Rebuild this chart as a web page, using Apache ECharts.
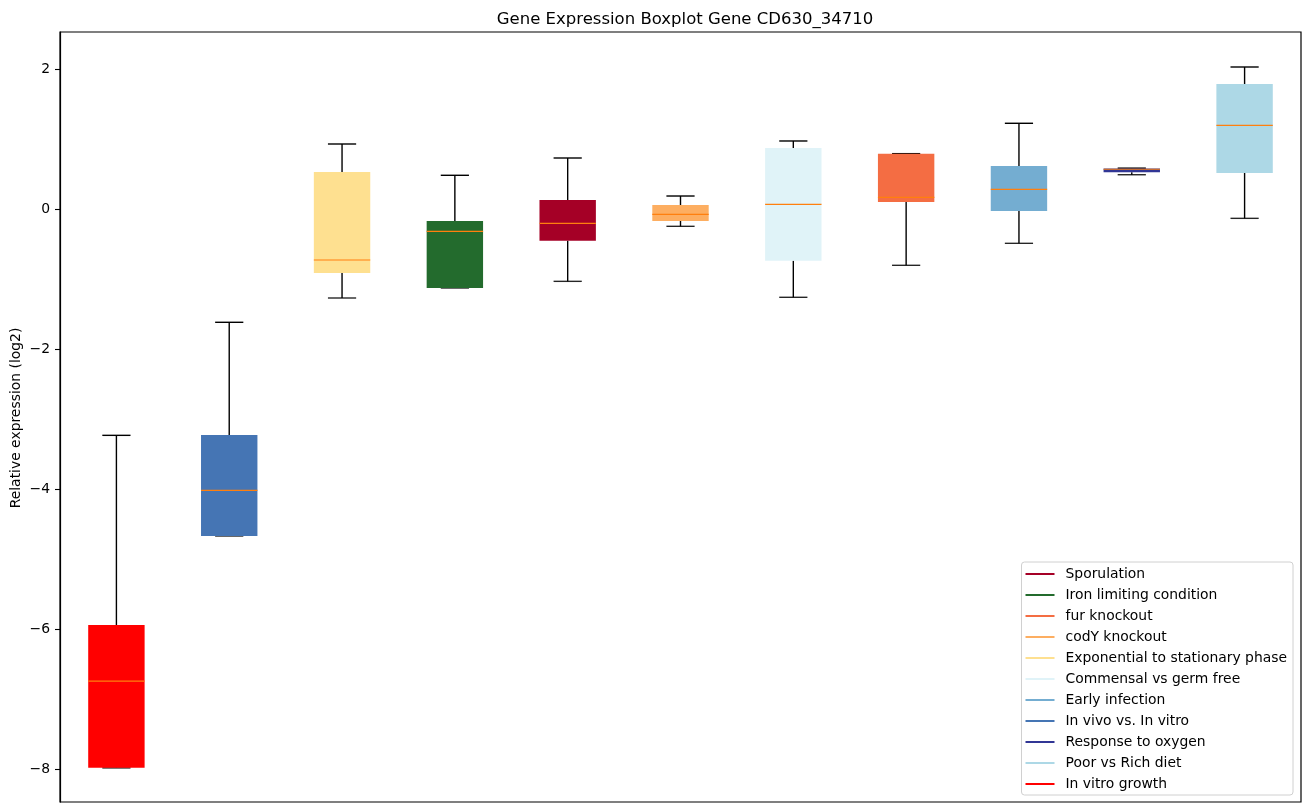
<!DOCTYPE html>
<html>
<head>
<meta charset="utf-8">
<script src="https://cdn.jsdelivr.net/npm/echarts@6/dist/echarts.min.js"></script>
<style>html,body{margin:0;padding:0;background:#fff;}#c{width:1309px;height:812px;}</style>
</head>
<body>
<div id="c"></div>
<script>
// Categories in plot order (left to right)
const categories = ['In vitro growth', 'In vivo vs. In vitro', 'Exponential to stationary phase', 'Iron limiting condition', 'Sporulation', 'codY knockout', 'Commensal vs germ free', 'fur knockout', 'Early infection', 'Response to oxygen', 'Poor vs Rich diet'];
const minVals = [-7.98, -4.667, -1.267, -1.124, -1.029, -0.243, -1.257, -0.80, -0.486, 0.494, -0.129];
const q1Vals  = [-7.977, -4.667, -0.91, -1.124, -0.448, -0.167, -0.734, 0.104, -0.024, 0.53, 0.519];
const medVals = [-6.739, -4.014, -0.724, -0.314, -0.20, -0.071, 0.071, 0.171, 0.286, 0.572, 1.20];
const q3Vals  = [-5.939, -3.224, 0.533, -0.167, 0.133, 0.061, 0.876, 0.795, 0.619, 0.584, 1.79];
const maxVals = [-3.229, -1.614, 0.933, 0.486, 0.733, 0.19, 0.976, 0.795, 1.229, 0.588, 2.033];
const legendOrder = ['Sporulation', 'Iron limiting condition', 'fur knockout', 'codY knockout', 'Exponential to stationary phase', 'Commensal vs germ free', 'Early infection', 'In vivo vs. In vitro', 'Response to oxygen', 'Poor vs Rich diet', 'In vitro growth'];
const yTicks = [-8, -6, -4, -2, 0, 2];
const titleText = 'Gene Expression Boxplot Gene CD630_34710';
const yName = 'Relative expression (log2)';

const colorOf = {
  'Sporulation': '#a50026',
  'Iron limiting condition': '#236b2d',
  'fur knockout': '#f46d43',
  'codY knockout': '#fdae61',
  'Exponential to stationary phase': '#fee090',
  'Commensal vs germ free': '#e0f3f8',
  'Early infection': '#74add1',
  'In vivo vs. In vitro': '#4575b4',
  'Response to oxygen': '#313695',
  'Poor vs Rich diet': '#add8e6',
  'In vitro growth': '#ff0000'
};
const FONT = 'DejaVu Sans';

function makeRender(color) {
  return function (params, api) {
    const xi = api.value(0);
    const c = (v) => api.coord([xi, v]);
    const cx = c(api.value(3))[0];
    const yMin = c(api.value(1))[1];
    const yQ1 = c(api.value(2))[1];
    const yMed = c(api.value(3))[1];
    const yQ3 = c(api.value(4))[1];
    const yMax = c(api.value(5))[1];
    const bw = api.size([1, 0])[0] * 0.5;
    const cw = bw * 0.5;
    const ls = { stroke: '#000', lineWidth: 1.4 };
    return {
      type: 'group',
      children: [
        { type: 'line', shape: { x1: cx, y1: yQ1, x2: cx, y2: yMin }, style: ls },
        { type: 'line', shape: { x1: cx, y1: yQ3, x2: cx, y2: yMax }, style: ls },
        { type: 'line', shape: { x1: cx - cw / 2, y1: yMin, x2: cx + cw / 2, y2: yMin }, style: { stroke: '#000', lineWidth: 1.4, opacity: 0.85 } },
        { type: 'line', shape: { x1: cx - cw / 2, y1: yMax, x2: cx + cw / 2, y2: yMax }, style: ls },
        { type: 'rect', shape: { x: cx - bw / 2, y: yQ3, width: bw, height: Math.max(yQ1 - yQ3, 0.5) }, style: { fill: color } },
        { type: 'line', shape: { x1: cx - bw / 2, y1: yMed, x2: cx + bw / 2, y2: yMed }, style: { stroke: '#ff7f0e', lineWidth: 1.2 } }
      ]
    };
  };
}

const series = categories.map((name, i) => ({
  type: 'custom',
  name: name,
  itemStyle: { color: colorOf[name] },
  encode: { x: 0, y: [1, 2, 3, 4, 5] },
  data: [[i, minVals[i], q1Vals[i], medVals[i], q3Vals[i], maxVals[i]]],
  renderItem: makeRender(colorOf[name])
}));

const chart = echarts.init(document.getElementById('c'), null, { renderer: 'canvas' });
chart.setOption({
  animation: false,
  backgroundColor: '#fff',
  textStyle: { fontFamily: FONT },
  title: {
    text: titleText, left: 680, textAlign: 'center', top: 6,
    textStyle: { fontFamily: FONT, fontSize: 16.5, fontWeight: 'normal', color: '#000' }
  },
  graphic: [{
    type: 'text', x: 16, y: 418, rotation: Math.PI / 2,
    style: { text: yName, fontFamily: FONT, fontSize: 13.9, fill: '#000', textAlign: 'center', textVerticalAlign: 'middle' }
  }],
  grid: { left: 60, right: 8, top: 32, bottom: 10, outerBoundsMode: 'none', containLabel: false, show: true, borderColor: '#000', borderWidth: 1.2, backgroundColor: 'transparent' },
  legend: {
    orient: 'vertical', right: 16, bottom: 17,
    icon: 'rect', itemWidth: 29, itemHeight: 2, itemGap: 7,
    padding: [5, 6, 4, 4],
    backgroundColor: '#fff', borderColor: '#d0d0d0', borderWidth: 1, borderRadius: 3,
    textStyle: { fontFamily: FONT, fontSize: 13.9, color: '#000', lineHeight: 14, padding: [0, 0, 0, 6] },
    data: legendOrder.map(n => ({ name: n, itemStyle: { color: colorOf[n] } }))
  },
  xAxis: {
    type: 'category', data: categories, boundaryGap: true,
    axisLine: { show: false }, axisTick: { show: false }, axisLabel: { show: false }, splitLine: { show: false }
  },
  yAxis: {
    type: 'value', min: -8.467, max: 2.533,
    axisLine: { show: true, lineStyle: { color: '#000', width: 1.2 } },
    axisTick: { show: true, length: 5, lineStyle: { color: '#000', width: 1.1 }, customValues: yTicks },
    axisLabel: { fontFamily: FONT, fontSize: 13.9, color: '#000', margin: 10, customValues: yTicks, formatter: v => String(v).replace('-', '\u2212') },
    splitLine: { show: false }
  },
  series: series
});
</script>
</body>
</html>
